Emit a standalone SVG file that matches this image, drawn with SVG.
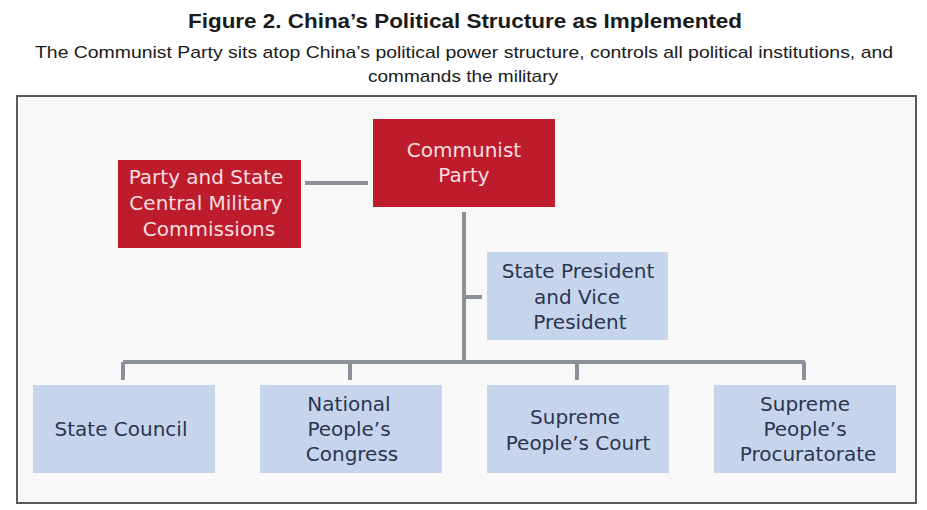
<svg xmlns="http://www.w3.org/2000/svg" width="927" height="510" viewBox="0 0 927 510">
<style>
.title{font-family:"Liberation Sans",Arial,sans-serif;font-weight:bold;font-size:20.5px;fill:#1a1a1a;text-anchor:middle}
.sub{font-family:"Liberation Sans",Arial,sans-serif;font-size:17px;fill:#1a1a1a;text-anchor:middle}
.red{fill:#bd1c2c}
.blue{fill:#c6d5ec}
.rt{font-family:"DejaVu Sans",Verdana,sans-serif;font-size:20px;fill:#f7dfe0;text-anchor:middle}
.bt{font-family:"DejaVu Sans",Verdana,sans-serif;font-size:20px;fill:#2b3550;text-anchor:middle}
.conn{stroke:#8b9099;stroke-width:4;fill:none}
</style>
<rect width="927" height="510" fill="#ffffff"/>
<text class="title" x="465" y="28" textLength="554" lengthAdjust="spacingAndGlyphs">Figure 2. China’s Political Structure as Implemented</text>
<text class="sub" x="464" y="58" textLength="858" lengthAdjust="spacingAndGlyphs">The Communist Party sits atop China’s political power structure, controls all political institutions, and</text>
<text class="sub" x="463" y="82" textLength="190" lengthAdjust="spacingAndGlyphs">commands the military</text>
<rect x="17" y="96" width="899" height="407" fill="#f8f8f8" stroke="#5a5a5a" stroke-width="2"/>
<g id="connectors">
<path class="conn" d="M305 183 H368"/>
<path class="conn" d="M464 212 V362"/>
<path class="conn" d="M464 297 H482"/>
<path class="conn" d="M123 362 H805"/>
<path class="conn" d="M123 362 V380 M350 362 V380 M577 362 V380 M804 362 V380"/>
</g>
<g id="communist-party">
<rect class="red" x="373" y="119" width="182" height="88"/>
<text class="rt" x="464" y="157">Communist</text>
<text class="rt" x="464" y="182">Party</text>
</g>
<g id="cmc">
<rect class="red" x="118" y="160" width="183" height="88"/>
<text class="rt" x="206" y="184">Party and State</text>
<text class="rt" x="206" y="210">Central Military</text>
<text class="rt" x="209" y="236">Commissions</text>
</g>
<g id="state-president">
<rect class="blue" x="487" y="252" width="181" height="88"/>
<text class="bt" x="578" y="278">State President</text>
<text class="bt" x="577" y="304">and Vice</text>
<text class="bt" x="580" y="329">President</text>
</g>
<g id="state-council">
<rect class="blue" x="33" y="385" width="182" height="88"/>
<text class="bt" x="121" y="436">State Council</text>
</g>
<g id="npc">
<rect class="blue" x="260" y="385" width="182" height="88"/>
<text class="bt" x="349" y="411">National</text>
<text class="bt" x="349" y="436">People’s</text>
<text class="bt" x="352" y="461">Congress</text>
</g>
<g id="spc">
<rect class="blue" x="487" y="385" width="182" height="88"/>
<text class="bt" x="575" y="424">Supreme</text>
<text class="bt" x="578" y="450">People’s Court</text>
</g>
<g id="spp">
<rect class="blue" x="714" y="385" width="182" height="88"/>
<text class="bt" x="805" y="411">Supreme</text>
<text class="bt" x="805" y="436">People’s</text>
<text class="bt" x="808" y="461">Procuratorate</text>
</g>
</svg>
